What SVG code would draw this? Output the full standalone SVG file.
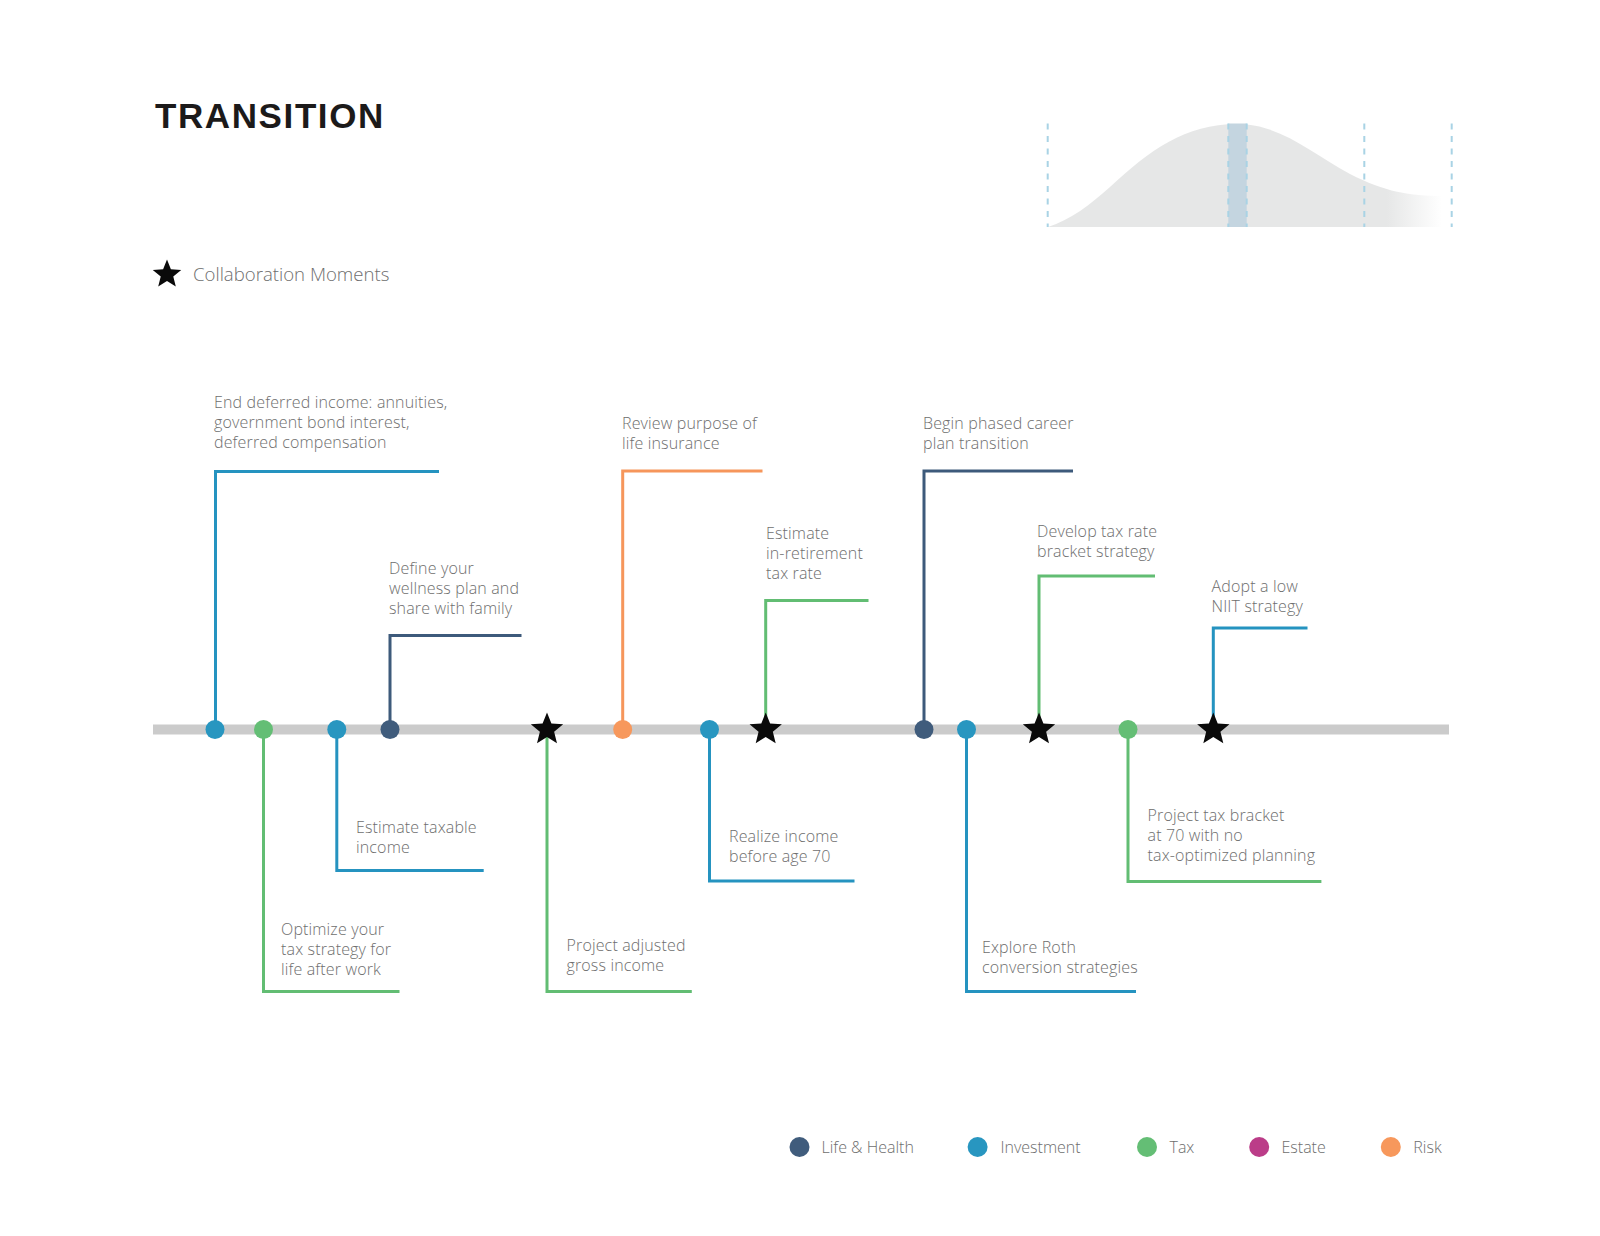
<svg xmlns="http://www.w3.org/2000/svg" width="1600" height="1236" viewBox="0 0 1600 1236">
<style>
.lbl{font-family:"Open Sans","Lato","Liberation Sans",sans-serif;font-weight:300;font-size:16px;letter-spacing:0.15px;fill:#6e6e6e}
.leg{font-family:"Open Sans","Lato","Liberation Sans",sans-serif;font-weight:300;font-size:16px;fill:#6e6e6e}
.title{font-family:"Liberation Sans","Arial",sans-serif;font-weight:700;font-size:35px;fill:#1c1a1a;letter-spacing:1.6px}
.con{fill:none;stroke-width:3;stroke-linejoin:miter}
.inv{stroke:#2593c0}.tax{stroke:#62bd73}.life{stroke:#3d5a7b}.risk{stroke:#f6965b}
.dinv{fill:#2896c0}.dtax{fill:#64be75}.dlife{fill:#405c7c}.drisk{fill:#f7985c}.dest{fill:#bb3c88}
.dash{stroke:#a9d3e5;stroke-width:2;stroke-dasharray:6 6.5}
</style>
<defs>
<path id="star" d="M0,-17 L4.41,-6.07 L16.17,-5.25 L7.13,2.32 L9.99,13.75 L0,7.5 L-9.99,13.75 L-7.13,2.32 L-16.17,-5.25 L-4.41,-6.07 Z" fill="#0a0a0a"/>
<linearGradient id="fade" gradientUnits="userSpaceOnUse" x1="1048" y1="0" x2="1442" y2="0">
<stop offset="0.86" stop-color="#e6e7e7" stop-opacity="1"/>
<stop offset="1" stop-color="#e6e7e7" stop-opacity="0"/>
</linearGradient>
</defs>
<rect width="1600" height="1236" fill="#ffffff"/>

<text class="title" x="155" y="128">TRANSITION</text>

<g id="curve">
<path d="M1048,227 C1070,220 1090,205 1110,187 C1150,150 1185,124 1237,124 C1280,124 1310,152 1350,174 C1385,192 1410,196 1442,196 L1442,227 Z" fill="url(#fade)"/>
<rect x="1228.3" y="123.5" width="18.4" height="103.5" fill="#c4d5e0"/>
<line class="dash" x1="1047.7" y1="123.5" x2="1047.7" y2="227"/>
<line class="dash" x1="1228.3" y1="123.5" x2="1228.3" y2="227"/>
<line class="dash" x1="1246.7" y1="123.5" x2="1246.7" y2="227"/>
<line class="dash" x1="1364.3" y1="123.5" x2="1364.3" y2="227"/>
<line class="dash" x1="1451.7" y1="123.5" x2="1451.7" y2="227"/>
</g>

<g id="legend-collab">
<use href="#star" transform="translate(167,274.5) scale(0.88)"/>
<text x="193" y="281" style="font-family:'Open Sans','Lato','Liberation Sans',sans-serif;font-weight:300;font-size:18.6px;fill:#6e6e6e">Collaboration Moments</text>
</g>

<rect id="timeline" x="153" y="724.5" width="1296" height="10" fill="#cbcbcb"/>

<g id="connectors">
<path class="con inv" d="M215.5,729.5 V471.5 H439"/>
<path class="con tax" d="M263.5,729.5 V991.5 H399.5"/>
<path class="con inv" d="M336.8,729.5 V870.5 H483.7"/>
<path class="con life" d="M390,729.5 V635.5 H521.5"/>
<path class="con tax" d="M547,729.5 V991.5 H691.8"/>
<path class="con risk" d="M622.7,729.5 V471 H762.5"/>
<path class="con inv" d="M709.5,729.5 V881 H854.5"/>
<path class="con tax" d="M765.7,729.5 V600.5 H868.5"/>
<path class="con life" d="M924,729.5 V471 H1073"/>
<path class="con inv" d="M966.5,729.5 V991.5 H1136"/>
<path class="con tax" d="M1039,729.5 V576 H1155"/>
<path class="con tax" d="M1128,729.5 V881.5 H1321.4"/>
<path class="con inv" d="M1213.3,729.5 V628 H1307.5"/>
</g>

<g id="n1"><circle class="dinv" cx="215" cy="729.5" r="9.5"/>
<text class="lbl" x="214" y="408">End deferred income: annuities,</text>
<text class="lbl" x="214" y="428">government bond interest,</text>
<text class="lbl" x="214" y="448">deferred compensation</text></g>

<g id="n2"><circle class="dtax" cx="263.5" cy="729.5" r="9.5"/>
<text class="lbl" x="281" y="935">Optimize your</text>
<text class="lbl" x="281" y="955">tax strategy for</text>
<text class="lbl" x="281" y="975">life after work</text></g>

<g id="n3"><circle class="dinv" cx="336.8" cy="729.5" r="9.5"/>
<text class="lbl" x="356" y="833">Estimate taxable</text>
<text class="lbl" x="356" y="853">income</text></g>

<g id="n4"><circle class="dlife" cx="390" cy="729.5" r="9.5"/>
<text class="lbl" x="389" y="574">Define your</text>
<text class="lbl" x="389" y="594">wellness plan and</text>
<text class="lbl" x="389" y="614">share with family</text></g>

<g id="n5"><use href="#star" x="547" y="729.5"/>
<text class="lbl" x="566.5" y="951">Project adjusted</text>
<text class="lbl" x="566.5" y="971">gross income</text></g>

<g id="n6"><circle class="drisk" cx="622.7" cy="729.5" r="9.5"/>
<text class="lbl" x="622" y="429">Review purpose of</text>
<text class="lbl" x="622" y="449">life insurance</text></g>

<g id="n7"><circle class="dinv" cx="709.5" cy="729.5" r="9.5"/>
<text class="lbl" x="729" y="842">Realize income</text>
<text class="lbl" x="729" y="862">before age 70</text></g>

<g id="n8"><use href="#star" x="765.7" y="729.5"/>
<text class="lbl" x="766" y="539">Estimate</text>
<text class="lbl" x="766" y="559">in-retirement</text>
<text class="lbl" x="766" y="579">tax rate</text></g>

<g id="n9"><circle class="dlife" cx="924" cy="729.5" r="9.5"/>
<text class="lbl" x="923" y="429">Begin phased career</text>
<text class="lbl" x="923" y="449">plan transition</text></g>

<g id="n10"><circle class="dinv" cx="966.5" cy="729.5" r="9.5"/>
<text class="lbl" x="982" y="953">Explore Roth</text>
<text class="lbl" x="982" y="973">conversion strategies</text></g>

<g id="n11"><use href="#star" x="1039" y="729.5"/>
<text class="lbl" x="1037" y="537">Develop tax rate</text>
<text class="lbl" x="1037" y="557">bracket strategy</text></g>

<g id="n12"><circle class="dtax" cx="1128" cy="729.5" r="9.5"/>
<text class="lbl" x="1147.5" y="821">Project tax bracket</text>
<text class="lbl" x="1147.5" y="841">at 70 with no</text>
<text class="lbl" x="1147.5" y="861">tax-optimized planning</text></g>

<g id="n13"><use href="#star" x="1213.3" y="729.5"/>
<text class="lbl" x="1211.5" y="592">Adopt a low</text>
<text class="lbl" x="1211.5" y="612">NIIT strategy</text></g>

<g id="legend">
<circle class="dlife" cx="799.5" cy="1147" r="10"/><text class="leg" x="821.5" y="1152.5">Life &amp; Health</text>
<circle class="dinv" cx="977.6" cy="1147" r="10"/><text class="leg" x="1000.5" y="1152.5">Investment</text>
<circle class="dtax" cx="1147" cy="1147" r="10"/><text class="leg" x="1169.5" y="1152.5">Tax</text>
<circle class="dest" cx="1259.2" cy="1147" r="10"/><text class="leg" x="1281.5" y="1152.5">Estate</text>
<circle class="drisk" cx="1390.8" cy="1147" r="10"/><text class="leg" x="1413.3" y="1152.5">Risk</text>
</g>
</svg>
